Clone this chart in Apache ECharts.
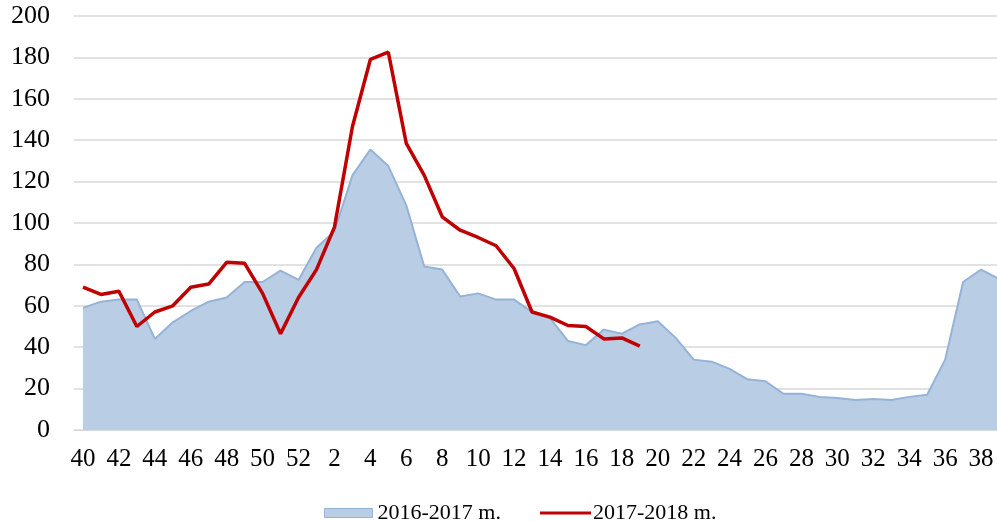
<!DOCTYPE html>
<html>
<head>
<meta charset="utf-8">
<title>chart</title>
<script src="https://cdn.jsdelivr.net/npm/echarts@6/dist/echarts.min.js"></script>
<style>
  html, body { margin: 0; padding: 0; background: #fff; overflow: hidden; }
  /* the plot runs a little past the right edge of the picture, as in the original */
  #myChart { width: 1010px; height: 521px; }
</style>
</head>
<body>
<div id="myChart"></div>
<script>
// savaitės: 40..52, tada 1..39
const weeks = ['40', '41', '42', '43', '44', '45', '46', '47', '48', '49', '50', '51', '52',
  '1', '2', '3', '4', '5', '6', '7', '8', '9', '10', '11', '12', '13', '14', '15', '16',
  '17', '18', '19', '20', '21', '22', '23', '24', '25', '26', '27', '28', '29', '30',
  '31', '32', '33', '34', '35', '36', '37', '38', '39']

const season1617 = [59, 62, 63, 63, 44, 52, 57.5, 62, 64, 71.5, 71.5, 77, 72.5,
  88, 96, 123, 135.5, 127.5, 108.5, 79, 77.5, 64.5, 66, 63, 63, 57, 54, 43, 41,
  48.5, 46.5, 51, 52.5, 44.5, 34, 33, 29.5, 24.5, 23.5, 17.5, 17.5, 16, 15.5,
  14.5, 15, 14.5, 16, 17, 34, 71.5, 77.5, 73]

const season1718 = [69, 65.5, 67, 50, 57, 60, 69, 70.5, 81, 80.5, 66, 46.5, 64,
  77.5, 98, 146.5, 179, 182.5, 138.5, 123, 103, 96.5, 93, 89, 78, 57, 54.5,
  50.5, 50, 44, 44.5, 40.5]

const seriesNames = ['2016-2017 m.', '2017-2018 m.']

const font = 'Liberation Serif'
const legendText = { fontFamily: font, fontSize: 22, color: '#000' }

const option = {
  animation: false,
  grid: {
    left: 74,
    top: 16,
    right: 2,
    height: 414,
  },
  // dvi legendos, kad ikonų aukščiai skirtųsi
  legend: [
    {
      left: 319,
      top: 497,
      itemWidth: 48,
      itemHeight: 9,
      textStyle: legendText,
      data: [
        { name: seriesNames[0], icon: 'rect', itemStyle: { color: '#B9CDE5', borderColor: '#95B3D7', borderWidth: 1 } },
      ],
    },
    {
      left: 535,
      top: 497,
      itemWidth: 51,
      itemHeight: 3,
      textStyle: Object.assign({ padding: [0, 0, 0, -3] }, legendText),
      data: [
        { name: seriesNames[1], icon: 'rect', itemStyle: { color: '#C00000' } },
      ],
    },
  ],
  xAxis: {
    type: 'category',
    data: weeks,
    boundaryGap: true,
    axisLine: { lineStyle: { color: '#D9D9D9', width: 1 } },
    axisTick: { interval: 0, length: 6, lineStyle: { color: '#D9D9D9' } },
    axisLabel: {
      interval: 1,
      margin: 17,
      fontFamily: font,
      fontSize: 25,
      color: '#000',
    },
  },
  yAxis: {
    type: 'value',
    min: 0,
    max: 200,
    interval: 20,
    axisLine: { show: false },
    axisTick: { show: false },
    splitLine: { lineStyle: { color: '#D9D9D9', width: 1.5 } },
    axisLabel: {
      margin: 24,
      fontFamily: font,
      fontSize: 26,
      color: '#000',
    },
  },
  series: [
    {
      name: seriesNames[0],
      type: 'line',
      data: season1617,
      symbol: 'none',
      lineStyle: { color: '#95B3D7', width: 2 },
      itemStyle: { color: '#B9CDE5' },
      areaStyle: { color: '#B9CDE5', opacity: 1 },
    },
    {
      name: seriesNames[1],
      type: 'line',
      data: season1718,
      symbol: 'none',
      lineStyle: { color: '#C00000', width: 3.5 },
      itemStyle: { color: '#C00000' },
    },
  ],
}

const chart = echarts.init(document.getElementById('myChart'))
chart.setOption(option)
</script>
</body>
</html>
